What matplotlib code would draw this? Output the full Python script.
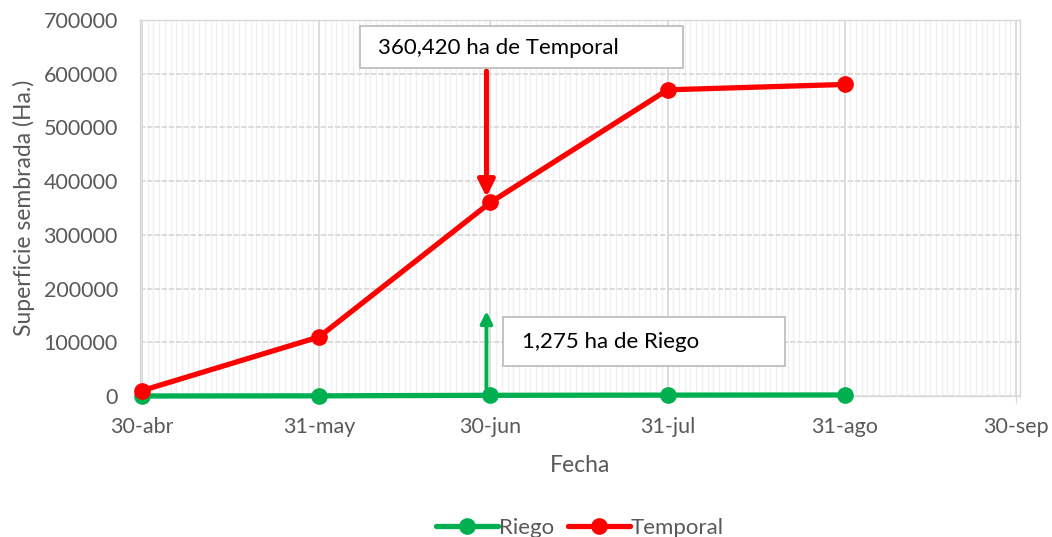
import matplotlib
matplotlib.use("Agg")
import matplotlib.pyplot as plt
import matplotlib.dates as mdates
from matplotlib.ticker import FixedLocator, MultipleLocator
from matplotlib.patches import Rectangle
import datetime as dt

# ---- data ----
fechas = ["2020-04-30", "2020-05-31", "2020-06-30", "2020-07-31", "2020-08-31"]
riego = [0, 300, 1275, 1600, 1900]
temporal = [10000, 110000, 360420, 570000, 580000]
tick_fechas = ["2020-04-30", "2020-05-31", "2020-06-30", "2020-07-31", "2020-08-31", "2020-09-30"]
tick_labels = ["30-abr", "31-may", "30-jun", "31-jul", "31-ago", "30-sep"]
anot_temporal = "360,420 ha de Temporal"
anot_riego = "1,275 ha de Riego"

plt.rcParams['font.family'] = ['Lato', 'DejaVu Sans']

W, H = 1052, 537

def d(s):
    return mdates.date2num(dt.datetime.strptime(s, "%Y-%m-%d"))

def fx(px):
    return px / W

def fy(py):
    return 1 - py / H

x = [d(s) for s in fechas]
xt = [d(s) for s in tick_fechas]

fig = plt.figure(figsize=(W / 100, H / 100), dpi=100)
ax = fig.add_axes([fx(140), fy(396), (1020 - 140) / W, (396 - 20) / H])

green = "#00B050"
red = "#FF0000"

ax.plot(x, riego, color=green, lw=3.8, marker="o", ms=11, label="Riego", zorder=4,
        solid_capstyle="round", clip_on=False)
ax.plot(x, temporal, color=red, lw=3.8, marker="o", ms=11, label="Temporal", zorder=5,
        solid_capstyle="round", clip_on=False)

ax.set_xlim(xt[0] - 0.35, xt[-1] + 0.7)
ax.set_ylim(0, 700000)
ax.yaxis.set_major_locator(MultipleLocator(100000))
ax.xaxis.set_major_locator(FixedLocator(xt))
ax.xaxis.set_minor_locator(MultipleLocator(1))
ax.set_xticks(xt)
ax.set_xticklabels(tick_labels)
ax.yaxis.set_major_formatter(matplotlib.ticker.FuncFormatter(lambda v, p: f"{int(v)}"))

ax.grid(which="minor", axis="x", color="#F0F0F0", lw=1.0, zorder=0)
ax.grid(which="major", axis="x", color="#D9D9D9", lw=1.3, zorder=1)
ax.grid(which="major", axis="y", color="#D9D9D9", lw=1.3, ls=(0, (3, 1)), zorder=1)
ax.set_axisbelow(True)

for s in ax.spines.values():
    s.set_color("#D9D9D9")
    s.set_linewidth(1.0)

ax.tick_params(axis="both", which="both", colors="#D9D9D9", labelcolor="#595959", labelsize=15.5)
ax.tick_params(axis="y", length=0, pad=16)
ax.tick_params(axis="x", which="major", length=5, pad=10)
ax.tick_params(axis="x", which="minor", length=0)

ax.set_xlabel("Fecha", fontsize=16.5, color="#595959", labelpad=13)
ax.set_ylabel("Superficie sembrada (Ha.)", fontsize=16.5, color="#595959", labelpad=6)

# annotations
x_arr = x[2] - 0.7
ax.annotate("", xy=(x_arr, temporal[2] + 10000), xytext=(x_arr, 605000),
            arrowprops=dict(arrowstyle="-|>,head_width=0.5,head_length=1.0", color=red, lw=3.6,
                            shrinkA=0, shrinkB=0), zorder=6)
ax.annotate("", xy=(x_arr, 158000), xytext=(x_arr, 0),
            arrowprops=dict(arrowstyle="-|>,head_width=0.35,head_length=0.7", color=green, lw=2.8,
                            shrinkA=0, shrinkB=0), zorder=6)

for (l, t, r, b, tx, txt) in [(360, 26, 683, 68, 378, anot_temporal),
                              (503, 317, 785, 366, 522, anot_riego)]:
    fig.patches.append(Rectangle((fx(l), fy(b)), (r - l) / W, (b - t) / H,
                                 transform=fig.transFigure, fc="white", ec="#BFBFBF",
                                 lw=1.3, zorder=7))
    fig.text(fx(tx), fy((t + b) / 2 + 1), txt, fontsize=16, color="black",
             ha="left", va="center", zorder=8)

leg = fig.legend(loc="center", bbox_to_anchor=(fx(580), fy(528)), ncol=2, frameon=False,
                 fontsize=16, handlelength=2.8, handletextpad=0.05, columnspacing=0.6,
                 labelcolor="#595959")

fig.savefig("out.png", dpi=100)
